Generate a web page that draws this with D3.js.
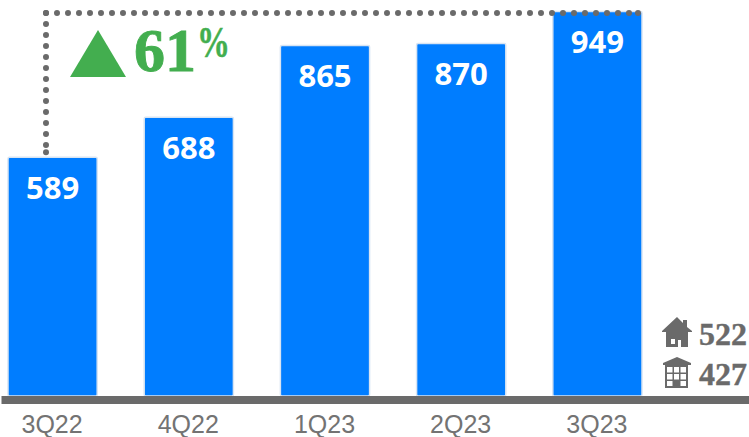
<!DOCTYPE html>
<html>
<head>
<meta charset="utf-8">
<style>
  html, body { margin: 0; padding: 0; background: #fff; }
  svg { display: block; }
</style>
<script src="https://cdn.jsdelivr.net/npm/d3@7"></script>
</head>
<body>
<svg id="chart"></svg>
<script>
const quarters = ['3Q22', '4Q22', '1Q23', '2Q23', '3Q23']
const totals = [589, 688, 865, 870, 949]
const growthLabel = '61'
const houseValue = 522
const apartmentValue = 427

const width = 749
const height = 437
const blue = '#007dff'
const grey = '#6a6a6a'
const green = '#43ae4f'

const svg = d3.select('#chart').attr('width', width).attr('height', height)

const x = d3.scaleBand().domain(quarters).range([8, 642]).paddingInner(0.345).paddingOuter(0)
const y = d3.scaleLinear().domain([0, 949]).range([396, 11.5])

// bars
svg.append('g')
  .selectAll('rect')
  .data(totals)
  .join('rect')
  .attr('x', (d, i) => x(quarters[i]))
  .attr('y', d => y(d))
  .attr('width', x.bandwidth())
  .attr('height', d => y(0) - y(d))
  .attr('rx', 1.5)
  .attr('fill', blue)
  .attr('stroke', '#d8e4f2')
  .attr('stroke-width', 1.5)

// value labels
svg.append('g')
  .selectAll('text')
  .data(totals)
  .join('text')
  .attr('x', (d, i) => x(quarters[i]) + x.bandwidth() / 2)
  .attr('y', d => y(d) + 41.5)
  .attr('text-anchor', 'middle')
  .attr('font-family', '"Open Sans"')
  .attr('font-weight', 700)
  .attr('font-size', 31)
  .attr('fill', '#fff')
  .text(d => d)

// baseline
svg.append('rect')
  .attr('x', 1.5).attr('y', y(0))
  .attr('width', width - 1.5).attr('height', 8)
  .attr('fill', grey)

// quarter labels
svg.append('g')
  .selectAll('text')
  .data(quarters)
  .join('text')
  .attr('x', d => x(d) + x.bandwidth() / 2 - 0.5)
  .attr('y', 433)
  .attr('text-anchor', 'middle')
  .attr('font-family', '"Liberation Sans"')
  .attr('font-size', 25)
  .attr('fill', '#737373')
  .text(d => d)

// dotted growth bracket, both legs start at the corner
const cornerX = 46
const cornerY = 13
const legEnds = [[cornerX, y(totals[0]) - 5], [x(quarters[4]) + x.bandwidth() - 4, cornerY]]
const bracket = svg.append('g').attr('fill', grey)
bracket.selectAll('path')
  .data(legEnds)
  .join('path')
  .attr('d', d => `M${cornerX},${cornerY}L${d[0]},${d[1]}`)
  .attr('fill', 'none')
  .attr('stroke', grey)
  .attr('stroke-width', 6)
  .attr('stroke-linecap', 'round')
  .attr('stroke-dasharray', '0 11')
bracket.selectAll('circle')
  .data(legEnds)
  .join('circle')
  .attr('cx', d => d[0])
  .attr('cy', d => d[1])
  .attr('r', 3)

// growth arrow and label
svg.append('path')
  .attr('d', 'M98,30L126,77L70,77Z')
  .attr('fill', green)

svg.append('text')
  .attr('x', 134).attr('y', 71)
  .attr('font-family', '"Liberation Serif"')
  .attr('font-weight', 700)
  .attr('font-size', 62)
  .attr('fill', green)
  .attr('stroke', green)
  .attr('stroke-width', 0.9)
  .text(growthLabel)

svg.append('text')
  .attr('x', 197).attr('y', 57)
  .attr('textLength', 33)
  .attr('lengthAdjust', 'spacingAndGlyphs')
  .attr('font-family', '"Liberation Serif"')
  .attr('font-weight', 700)
  .attr('font-size', 45)
  .attr('fill', green)
  .attr('stroke', green)
  .attr('stroke-width', 0.5)
  .text('%')

// unit type icons
svg.append('path')
  .attr('transform', 'translate(662,317)')
  .attr('fill', grey)
  .attr('fill-rule', 'evenodd')
  .attr('d', 'M15,0L21,6L21,3L25,3L25,10L30,14L30,15L26,15L26,30L19,30L19,23L16,23L16,30L4,30L4,15L0,15L0,14Z M9,22L9,27L13,27L13,22Z')

const flats = svg.append('g').attr('transform', 'translate(663,357)').attr('fill', grey)
flats.append('path').attr('d', 'M14,0L28,6L28,8L0,8L0,6Z')
flats.append('path')
  .attr('fill-rule', 'evenodd')
  .attr('d', 'M2,8L25,8L25,31L2,31Z M4,10L4,15.5L9.5,15.5L9.5,10Z M11,10L11,15.5L16,15.5L16,10Z M17.5,10L17.5,15.5L23,15.5L23,10Z M4,17L4,22.5L9.5,22.5L9.5,17Z M11,17L11,22.5L16,22.5L16,17Z M17.5,17L17.5,22.5L23,22.5L23,17Z M4,24L4,29L9.5,29L9.5,24Z M17.5,24L17.5,29L23,29L23,24Z')

svg.append('g')
  .selectAll('text')
  .data([houseValue, apartmentValue])
  .join('text')
  .attr('x', 699)
  .attr('y', (d, i) => 345 + i * 40)
  .attr('font-family', '"Liberation Serif"')
  .attr('font-weight', 700)
  .attr('font-size', 32)
  .attr('fill', grey)
  .attr('stroke', grey)
  .attr('stroke-width', 0.4)
  .text(d => d)
</script>
</body>
</html>
